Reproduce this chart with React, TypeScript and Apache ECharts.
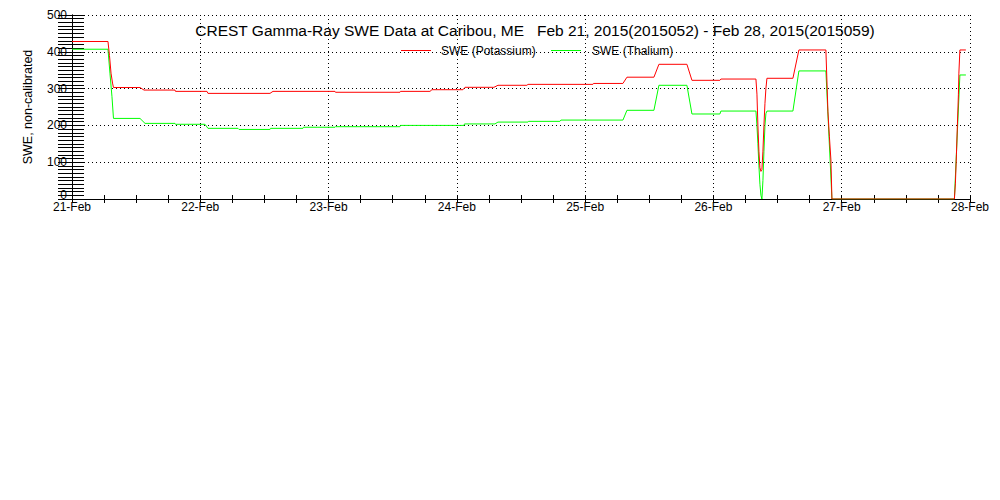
import React, { useEffect, useRef } from "react";
import * as echarts from "echarts";

const dayLabels = ["21-Feb", "22-Feb", "23-Feb", "24-Feb", "25-Feb", "26-Feb", "27-Feb", "28-Feb"];
const titleText = "CREST Gamma-Ray SWE Data at Caribou, ME   Feb 21, 2015(2015052) - Feb 28, 2015(2015059)";
const yAxisName = "SWE, non-calibrated";
const seriesNames = ["SWE (Potassium)", "SWE (Thalium)"];
const seriesColors = ["#ff0000", "#00ff00"];

// hours since Feb 21 00:00
const potassiumHours = [
  0, 6.73, 7.01, 7.3, 7.58, 7.76, 12.72, 13.47, 19.27, 19.36, 25.25, 25.44, 37.04, 37.6, 49.2, 49.29,
  61.36, 61.45, 66.97, 67.34, 73.14, 73.52, 78.94, 79.69, 85.11, 85.3, 97.46, 97.55, 103.07, 103.82,
  108.87, 109.8, 115.04, 115.98, 121.21, 121.4, 127.95, 128.14, 128.32, 128.51, 128.7, 128.89, 129.07,
  129.26, 129.45, 129.64, 129.82, 130.01, 134.87, 135.99, 141.04, 141.42, 141.7, 141.98, 142.17,
  165.08, 165.27, 165.46, 165.64, 165.83, 165.92, 166.11, 167.23,
];
const potassiumSWE = [
  428, 428, 390, 342, 315, 303, 303, 296, 296, 292.5, 292.5, 287, 287, 292.5, 292.5, 290,
  290, 292.5, 292.5, 297, 297, 303.5, 303.5, 309, 309, 311.5, 311.5, 314, 314, 331,
  331, 366, 366, 322.5, 322.5, 326, 326, 285, 200, 130, 85, 75, 80,
  130, 200, 260, 300, 328, 328, 405, 405, 237, 169, 106, 0,
  0, 43, 120, 201, 283, 342, 405, 405,
];

const thaliumHours = [
  0, 6.73, 7.11, 7.48, 7.76, 12.72, 13.66, 19.27, 19.36, 24.88, 25.44, 31.05, 31.24, 37.04, 37.13,
  43.21, 43.3, 49.2, 49.29, 61.36, 61.45, 73.33, 73.42, 79.13, 79.69, 85.3, 85.39, 91.28, 91.47,
  103.07, 103.82, 108.87, 109.8, 115.04, 115.98, 121.21, 121.4, 127.95, 128.14, 128.32, 128.51,
  128.7, 128.89, 129.07, 129.26, 129.45, 129.64, 129.82, 130.01, 134.87, 135.99, 141.04, 142.17,
  165.08, 166.11, 167.23,
];
const thaliumSWE = [
  407, 407, 340, 278, 219, 219, 205.5, 205.5, 203, 203, 192, 192, 189, 189, 192,
  192, 195, 195, 196.5, 196.5, 200, 200, 204, 204, 209, 209, 211, 211, 214.5,
  214.5, 241, 241, 309, 309, 231, 231, 239, 239, 200, 150, 90,
  40, 10, 0, 50, 130, 200, 232, 239, 239, 348, 348, 0,
  0, 337, 337,
];

const FONT = "Liberation Sans";

export default function App() {
  const ref = useRef<HTMLDivElement>(null);
  useEffect(() => {
    if (!ref.current) return;
    const chart = echarts.init(ref.current, null, { renderer: "svg" });
    const toPairs = (h: number[], v: number[]) => h.map((x, i) => [x, v[i]]);
    const dotted = { color: "#000", width: 1, type: [1, 3] as any };
    const legendY = 51;
    const legendItems = [
      { lineX: 401, textX: 441 },
      { lineX: 551, textX: 592 },
    ];
    const legendGraphics: any[] = [];
    legendItems.forEach((it, i) => {
      legendGraphics.push({
        type: "rect",
        shape: { x: it.lineX, y: legendY - 1, width: 30, height: 1 },
        style: { fill: seriesColors[i] },
        z: 100,
      });
      legendGraphics.push({
        type: "text",
        x: it.textX,
        y: legendY,
        style: {
          text: seriesNames[i],
          fontFamily: FONT,
          fontSize: 12,
          fill: "#000",
          textAlign: "left",
          textVerticalAlign: "middle",
        },
        z: 100,
      });
    });
    chart.setOption({
      animation: false,
      backgroundColor: "#fff",
      grid: { left: 72, right: 30, top: 15, bottom: 301, containLabel: false },
      graphic: [
        {
          type: "text",
          x: 535,
          y: 30,
          style: {
            text: titleText,
            fontFamily: FONT,
            fontSize: 15.5,
            fill: "#000",
            textAlign: "center",
            textVerticalAlign: "middle",
          },
          z: 100,
        },
        ...legendGraphics,
      ],
      xAxis: [
        {
          type: "value",
          min: 0,
          max: 168,
          interval: 24,
          position: "bottom",
          axisLine: { show: true, lineStyle: { color: "#000", width: 1 } },
          axisTick: { show: true, inside: true, length: 4, lineStyle: { color: "#000" } },
          minorTick: { show: true, splitNumber: 4, length: 4, lineStyle: { color: "#000" } },
          splitLine: { show: true, lineStyle: dotted },
          axisLabel: {
            formatter: (v: number) => dayLabels[Math.round(v / 24)] ?? "",
            fontFamily: FONT,
            fontSize: 12,
            lineHeight: 12,
            color: "#000",
            margin: 2,
          },
        },
        {
          type: "value",
          min: 0,
          max: 168,
          interval: 24,
          position: "top",
          axisLine: { show: true, lineStyle: { color: "#000", width: 1 } },
          axisTick: { show: true, inside: true, length: 4, lineStyle: { color: "#000" } },
          minorTick: { show: true, splitNumber: 4, length: 4, lineStyle: { color: "#000" } },
          splitLine: { show: false },
          axisLabel: { show: false },
        },
      ],
      yAxis: [
        {
          type: "value",
          min: 0,
          max: 500,
          interval: 100,
          position: "left",
          name: yAxisName,
          nameLocation: "middle",
          nameRotate: 90,
          nameGap: 38,
          nameTextStyle: { fontFamily: FONT, fontSize: 12.5, color: "#000" },
          axisLine: { show: true, lineStyle: { color: "#000", width: 1 } },
          axisTick: { show: true, inside: true, length: 12, lineStyle: { color: "#000" } },
          minorTick: { show: true, splitNumber: 10, length: 12, lineStyle: { color: "#000" } },
          splitLine: { show: true, lineStyle: dotted },
          axisLabel: {
            fontFamily: FONT,
            fontSize: 12,
            lineHeight: 8,
            color: "#000",
            margin: 5,
            verticalAlign: "middle",
            verticalAlignMinLabel: "bottom",
          },
        },
        {
          type: "value",
          min: 0,
          max: 500,
          interval: 100,
          position: "right",
          axisLine: { show: true, lineStyle: { color: "#000", width: 1 } },
          axisTick: { show: true, inside: true, length: 14, lineStyle: { color: "#000" } },
          minorTick: { show: true, splitNumber: 10, length: 14, lineStyle: { color: "#000" } },
          splitLine: { show: false },
          axisLabel: { show: false },
        },
      ],
      series: [
        {
          name: seriesNames[1],
          type: "line",
          data: toPairs(thaliumHours, thaliumSWE),
          symbol: "none",
          showSymbol: false,
          color: seriesColors[1],
          lineStyle: { color: seriesColors[1], width: 1 },
          z: 3,
        },
        {
          name: seriesNames[0],
          type: "line",
          data: toPairs(potassiumHours, potassiumSWE),
          symbol: "none",
          showSymbol: false,
          color: seriesColors[0],
          lineStyle: { color: seriesColors[0], width: 1 },
          z: 4,
        },
      ],
    });
    return () => chart.dispose();
  }, []);
  return (
    <div
      ref={ref}
      style={{ position: "fixed", left: 0, top: 0, width: 1000, height: 500, background: "#fff" }}
    />
  );
}
